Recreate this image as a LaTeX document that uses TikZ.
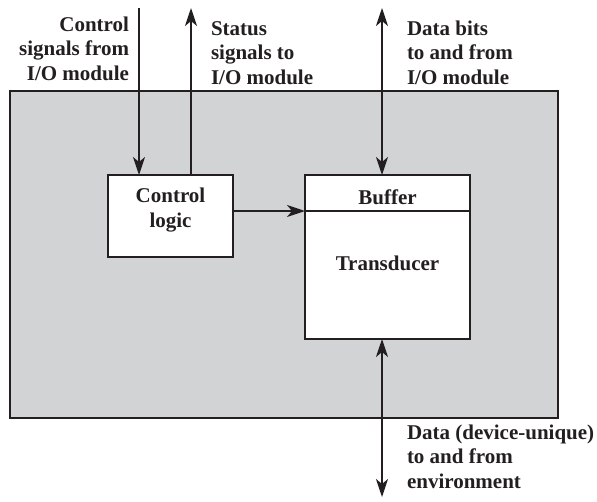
\documentclass[tikz,border=0pt]{standalone}
\usepackage{fontspec}
\setmainfont{Liberation Serif}
\usetikzlibrary{arrows.meta}
\definecolor{panel}{RGB}{210,211,213}
\definecolor{ink}{RGB}{35,31,32}
\begin{document}
\begin{tikzpicture}[x=1pt,y=-1pt,
  every node/.style={inner sep=0pt, outer sep=0pt},
  tip/.tip={Stealth[length=18pt,width=12pt,inset=5pt]},
  wire/.style={draw=ink, line width=1.8pt, -tip},
  dwire/.style={draw=ink, line width=1.8pt, tip-tip},
  box/.style={draw=ink, line width=1.8pt, fill=white},
  lbl/.style={font=\fontsize{21}{24.5}\selectfont\bfseries, text=ink}
]
\useasboundingbox (0,0) rectangle (597,501);
% outer panel
\node[draw=ink, line width=1.8pt, fill=panel, minimum width=548pt, minimum height=327pt, anchor=north west] (panel) at (10,91) {};
% control logic
\node[box, minimum width=125pt, minimum height=82pt, anchor=north west] (cl) at (108,175) {};
\node[lbl, align=center, anchor=base] (cltxt) at (170.5,227) {Control\\logic};
% buffer and transducer
\node[box, minimum width=165pt, minimum height=36pt, anchor=north west] (buf) at (305,175) {};
\node[lbl, anchor=base] (buftxt) at (387.5,204) {Buffer};
\node[box, minimum width=165pt, minimum height=128pt, anchor=north west] (trans) at (305,211) {};
\node[lbl, anchor=base] (transtxt) at (387.5,270) {Transducer};
% free ends
\coordinate (cin) at (139,8);
\coordinate (sout) at (191,8);
\coordinate (dtop) at (382,8);
\coordinate (dbot) at (382,497);
% connectors
\draw[wire] (cin) -- (cin |- cl.north);
\draw[wire] (sout |- cl.north) -- (sout);
\draw[wire] (cl.east |- trans.north west) -- (trans.north west);
\draw[dwire] (dtop) -- (dtop |- buf.north);
\draw[dwire] (dbot |- trans.south) -- (dbot);
% labels
\node[lbl, align=right, anchor=base east] (l1) at (129,80) {Control\\signals from\\I/O module};
\node[lbl, align=left, anchor=base west] (l2) at (211,84) {Status\\signals to\\I/O module};
\node[lbl, align=left, anchor=base west] (l3) at (407,84) {Data bits\\to and from\\I/O module};
\node[lbl, align=left, anchor=base west] (l4) at (407,488) {Data (device-unique)\\to and from\\environment};
\end{tikzpicture}
\end{document}
